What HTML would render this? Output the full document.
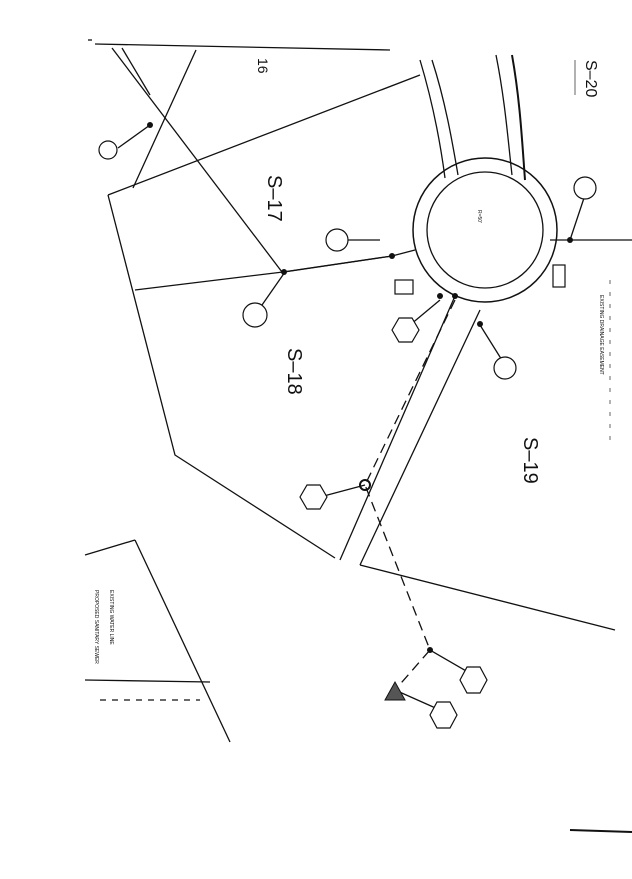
<!DOCTYPE html>
<html><head><style>
html,body{margin:0;padding:0;background:#fff;}
svg{display:block;}
text{font-family:"Liberation Sans",sans-serif;fill:#111;}
</style></head><body>
<svg width="632" height="879" viewBox="0 0 632 879" xmlns="http://www.w3.org/2000/svg">
<g stroke="#111" stroke-width="1.3" fill="none">
<line x1="95" y1="44" x2="390" y2="50"/>
<line x1="88" y1="40" x2="92" y2="40"/>
<line x1="112" y1="48" x2="282" y2="272"/>
<line x1="122" y1="48" x2="150" y2="95"/>
<line x1="196" y1="50" x2="133" y2="188"/>
<line x1="108" y1="195" x2="420" y2="75"/>
<polyline points="108,195 175,455 335,558"/>
<polyline points="135,290 283,272 392,256 415,250"/>
<line x1="284" y1="272" x2="392" y2="256"/>
<circle cx="485" cy="230" r="72" stroke-width="1.5"/>
<circle cx="485" cy="230" r="58" stroke-width="1.3"/>
<path d="M445,178 C440,140 432,100 420,60"/>
<path d="M458,175 C452,140 445,100 432,60"/>
<path d="M512,175 C508,140 505,100 496,55"/>
<path d="M525,180 C522,140 520,100 512,55" stroke-width="2"/>
<line x1="550" y1="240" x2="632" y2="240"/>
<line x1="455" y1="296" x2="340" y2="560"/>
<line x1="480" y1="310" x2="360" y2="565"/>
<line x1="360" y1="565" x2="615" y2="630"/>
<path d="M455,300 L365,485 L430,650 L395,690" stroke-dasharray="10,6"/>
<line x1="135" y1="540" x2="230" y2="742"/>
<line x1="85" y1="555" x2="135" y2="540"/>
<line x1="85" y1="680" x2="210" y2="682"/>
<line x1="100" y1="700" x2="200" y2="700" stroke-dasharray="6,6"/>
<line x1="570" y1="830" x2="632" y2="832" stroke-width="2"/>
<line x1="430" y1="650" x2="468" y2="672"/>
<line x1="395" y1="690" x2="440" y2="710"/>
<line x1="285" y1="272" x2="262" y2="305"/>
<line x1="150" y1="125" x2="118" y2="148"/>
<line x1="380" y1="240" x2="345" y2="240"/>
<line x1="570" y1="240" x2="585" y2="195"/>
<line x1="480" y1="325" x2="505" y2="365"/>
<line x1="440" y1="300" x2="410" y2="325"/>
<line x1="365" y1="485" x2="320" y2="497"/>
<line x1="610" y1="280" x2="610" y2="440" stroke="#888" stroke-dasharray="4,8"/>
<line x1="575" y1="60" x2="575" y2="95" stroke="#888"/>
</g>
<g fill="#111">
<circle cx="150" cy="125" r="3"/><circle cx="284" cy="272" r="3"/>
<circle cx="392" cy="256" r="3"/><circle cx="455" cy="296" r="3"/>
<circle cx="480" cy="324" r="3"/><circle cx="570" cy="240" r="3"/>
<circle cx="430" cy="650" r="3"/><circle cx="440" cy="296" r="3"/>
</g>
<circle cx="365" cy="485" r="5" fill="none" stroke="#111" stroke-width="2"/>
<polygon points="385,700 395,682 405,700" fill="#555" stroke="#111"/>
<g fill="#fff" stroke="#111" stroke-width="1.2">
<circle cx="255" cy="315" r="12"/><circle cx="337" cy="240" r="11"/>
<circle cx="585" cy="188" r="11"/><circle cx="505" cy="368" r="11"/>
<circle cx="108" cy="150" r="9"/>
<polygon points="300,497 307,485 320,485 327,497 320,509 307,509"/>
<polygon points="392,330 399,318 412,318 419,330 412,342 399,342"/>
<polygon points="460,680 467,667 480,667 487,680 480,693 467,693"/>
<polygon points="430,715 437,702 450,702 457,715 450,728 437,728"/>
<rect x="395" y="280" width="18" height="14"/>
<rect x="553" y="265" width="12" height="22"/>
</g>
<g font-size="20">
<text transform="translate(268,175) rotate(90)">S–17</text>
<text transform="translate(288,348) rotate(90)">S–18</text>
<text transform="translate(524,437) rotate(90)">S–19</text>
<text transform="translate(586,60) rotate(90)" font-size="16">S–20</text>
<text transform="translate(258,58) rotate(90)" font-size="14">16</text>
</g>
<g font-size="5" fill="#444">
<text transform="translate(600,295) rotate(90)">EXISTING DRAINAGE EASEMENT</text>
<text transform="translate(110,590) rotate(90)">EXISTING WATER LINE</text>
<text transform="translate(95,590) rotate(90)">PROPOSED SANITARY SEWER</text>
<text transform="translate(478,210) rotate(90)">R=50'</text>
</g>
</svg>
</body></html>
